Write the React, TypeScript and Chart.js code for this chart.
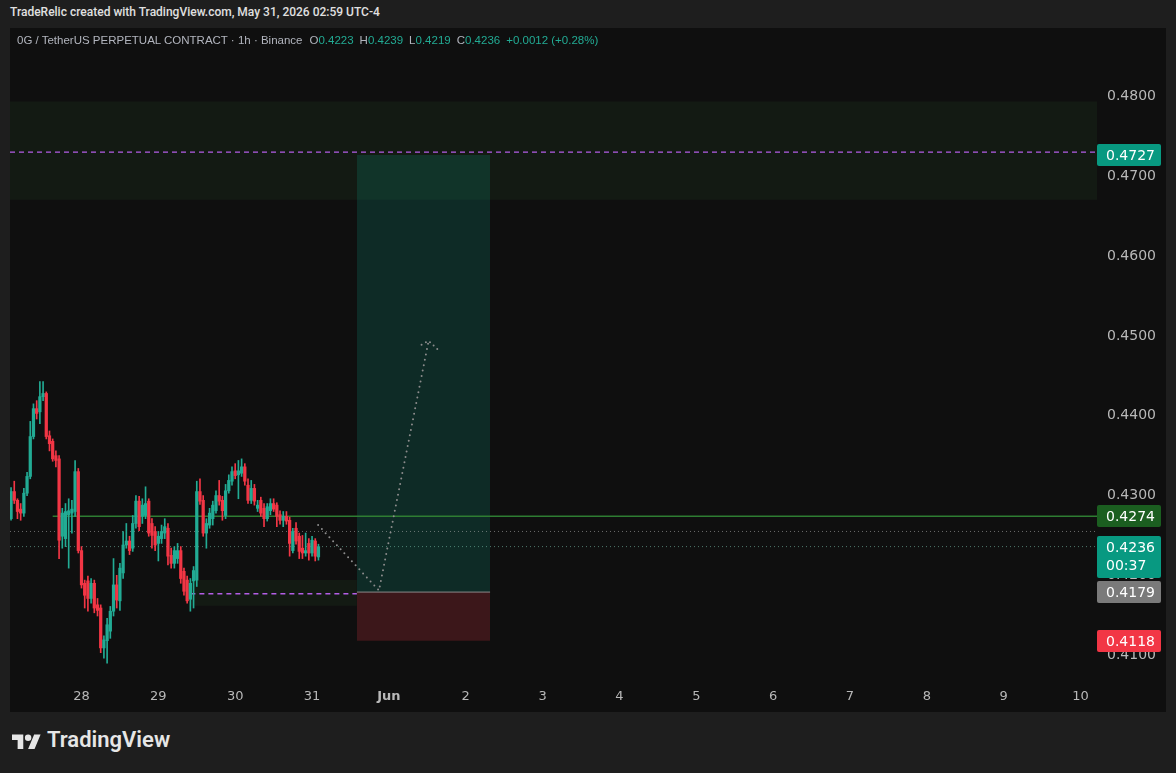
import React, { useEffect, useRef } from "react";
import { Chart, registerables } from "chart.js";

Chart.register(...registerables);

// ---- data: 1h candles, hour index counted from May 27 00:00 (UTC-4) ----
const FIRST_HOUR = 2;
const openP = [
  0.4271, 0.4305, 0.4294, 0.4283, 0.4278, 0.4303, 0.4324, 0.4374, 0.4409, 0.4405,
  0.4424, 0.4428, 0.4375, 0.4368, 0.4350, 0.4346, 0.4249, 0.4246, 0.4276, 0.4278,
  0.4280, 0.4330, 0.4231, 0.4190, 0.4193, 0.4171, 0.4190, 0.4163, 0.4159, 0.4109,
  0.4118, 0.4130, 0.4155, 0.4188, 0.4168, 0.4203, 0.4238, 0.4243, 0.4234, 0.4265,
  0.4293, 0.4274, 0.4275, 0.4293, 0.4265, 0.4255, 0.4240, 0.4246, 0.4253, 0.4259,
  0.4225, 0.4215, 0.4221, 0.4231, 0.4205, 0.4194, 0.4170, 0.4193, 0.4194, 0.4305,
  0.4294, 0.4253, 0.4263, 0.4271, 0.4281, 0.4300, 0.4294, 0.4275, 0.4306, 0.4318,
  0.4331, 0.4326, 0.4328, 0.4336, 0.4313, 0.4294, 0.4309, 0.4284, 0.4294, 0.4284,
  0.4271, 0.4281, 0.4290, 0.4288, 0.4276, 0.4269, 0.4274, 0.4269, 0.4231, 0.4259,
  0.4249, 0.4234, 0.4228, 0.4240, 0.4228, 0.4243, 0.4223,
];
const highP = [
  0.4310, 0.4318, 0.4296, 0.4290, 0.4309, 0.4329, 0.4393, 0.4415, 0.4419, 0.4443,
  0.4443, 0.4430, 0.4381, 0.4371, 0.4356, 0.4350, 0.4284, 0.4290, 0.4296, 0.4294,
  0.4344, 0.4334, 0.4236, 0.4194, 0.4199, 0.4196, 0.4194, 0.4171, 0.4163, 0.4124,
  0.4146, 0.4161, 0.4221, 0.4200, 0.4215, 0.4255, 0.4265, 0.4249, 0.4275, 0.4300,
  0.4299, 0.4296, 0.4311, 0.4296, 0.4271, 0.4261, 0.4255, 0.4263, 0.4271, 0.4265,
  0.4234, 0.4236, 0.4240, 0.4236, 0.4209, 0.4199, 0.4196, 0.4211, 0.4318, 0.4321,
  0.4300, 0.4271, 0.4284, 0.4293, 0.4306, 0.4319, 0.4299, 0.4314, 0.4326, 0.4336,
  0.4340, 0.4344, 0.4346, 0.4340, 0.4321, 0.4319, 0.4314, 0.4294, 0.4298, 0.4290,
  0.4290, 0.4296, 0.4296, 0.4291, 0.4281, 0.4280, 0.4280, 0.4273, 0.4259, 0.4266,
  0.4253, 0.4250, 0.4253, 0.4246, 0.4249, 0.4246, 0.4239,
];
const lowP = [
  0.4269, 0.4290, 0.4271, 0.4269, 0.4274, 0.4300, 0.4321, 0.4371, 0.4396, 0.4390,
  0.4419, 0.4371, 0.4356, 0.4343, 0.4336, 0.4221, 0.4234, 0.4236, 0.4209, 0.4253,
  0.4274, 0.4228, 0.4184, 0.4159, 0.4155, 0.4165, 0.4153, 0.4149, 0.4103, 0.4096,
  0.4090, 0.4121, 0.4149, 0.4159, 0.4156, 0.4196, 0.4234, 0.4226, 0.4230, 0.4259,
  0.4256, 0.4265, 0.4271, 0.4249, 0.4234, 0.4231, 0.4218, 0.4240, 0.4246, 0.4213,
  0.4209, 0.4209, 0.4215, 0.4190, 0.4175, 0.4165, 0.4155, 0.4159, 0.4186, 0.4289,
  0.4249, 0.4234, 0.4259, 0.4263, 0.4278, 0.4288, 0.4269, 0.4271, 0.4303, 0.4313,
  0.4321, 0.4296, 0.4324, 0.4313, 0.4290, 0.4290, 0.4288, 0.4280, 0.4274, 0.4261,
  0.4268, 0.4276, 0.4280, 0.4261, 0.4264, 0.4261, 0.4264, 0.4224, 0.4228, 0.4239,
  0.4221, 0.4221, 0.4224, 0.4219, 0.4224, 0.4218, 0.4219,
];
const closeP = [
  0.4305, 0.4294, 0.4280, 0.4278, 0.4303, 0.4324, 0.4374, 0.4409, 0.4403, 0.4424,
  0.4428, 0.4374, 0.4365, 0.4346, 0.4344, 0.4244, 0.4278, 0.4280, 0.4281, 0.4283,
  0.4330, 0.4231, 0.4188, 0.4175, 0.4171, 0.4190, 0.4159, 0.4156, 0.4109, 0.4119,
  0.4138, 0.4155, 0.4188, 0.4169, 0.4209, 0.4238, 0.4243, 0.4231, 0.4265, 0.4293,
  0.4261, 0.4288, 0.4290, 0.4253, 0.4250, 0.4238, 0.4249, 0.4255, 0.4261, 0.4224,
  0.4215, 0.4231, 0.4231, 0.4196, 0.4180, 0.4168, 0.4190, 0.4206, 0.4305, 0.4293,
  0.4253, 0.4265, 0.4278, 0.4288, 0.4300, 0.4293, 0.4281, 0.4306, 0.4319, 0.4330,
  0.4325, 0.4331, 0.4336, 0.4318, 0.4294, 0.4309, 0.4293, 0.4288, 0.4278, 0.4271,
  0.4286, 0.4290, 0.4283, 0.4274, 0.4269, 0.4274, 0.4268, 0.4240, 0.4255, 0.4243,
  0.4230, 0.4228, 0.4231, 0.4228, 0.4244, 0.4224, 0.4236,
];

// ---- axes ----
const xTickHours = [24, 48, 72, 96, 120, 144, 168, 192, 216, 240, 264, 288, 312, 336];
const xTickLabels = ["28", "29", "30", "31", "Jun", "2", "3", "4", "5", "6", "7", "8", "9", "10"];
const yTickValues = [0.41, 0.42, 0.43, 0.44, 0.45, 0.46, 0.47, 0.48];
const X_MIN = 1.67;
const X_MAX = 341.14;
const Y_MIN = 0.406875;
const Y_MAX = 0.488625;

// ---- drawings ----
const supplyZone = [0.4794, 0.4671];
const demandZoneX = [58, 110];
const demandZone = [0.4194, 0.4162];
const purpleTop = 0.47306;
const purpleLow = 0.41769;
const positionX = [110, 151.6];
const targetPrice = 0.4727;
const entryPrice = 0.4179;
const stopPrice = 0.4118;
const trendLevel = 0.4274;
const trendStartX = 15;
const dottedLevels = [0.4255, 0.4236];
const projX = [97.9, 116.9, 132.4];
const projY = [0.4263, 0.4181, 0.4494];
const arrowX = [130.2, 132.4, 135.3];
const arrowY = [0.4489, 0.4494, 0.4483];

const UP = "#22ab94";
const DOWN = "#f23645";
const PURPLE = "#b45ee6";
const FONT = '"DejaVu Sans", "Liberation Sans", sans-serif';

type AxisLabel = { value: number; text: string; sub?: string; bg: string };
const axisLabels: AxisLabel[] = [
  { value: targetPrice, text: "0.4727", bg: "#089981" },
  { value: trendLevel, text: "0.4274", bg: "#1b5e20" },
  { value: 0.4236, text: "0.4236", sub: "00:37", bg: "#089981" },
  { value: entryPrice, text: "0.4179", bg: "#7a7a7a" },
  { value: stopPrice, text: "0.4118", bg: "#f23645" },
];

const rect = (x0: number, x1: number, top: number, bottom: number, color: string, order: number) => ({
  type: "line" as const,
  data: [
    { x: x0, y: top },
    { x: x1, y: top },
  ],
  borderWidth: 0,
  borderColor: "rgba(0,0,0,0)",
  backgroundColor: color,
  fill: { value: bottom },
  pointRadius: 0,
  order,
});

const hline = (x0: number, x1: number, y: number, color: string, width: number, dash: number[], order: number) => ({
  type: "line" as const,
  data: [
    { x: x0, y },
    { x: x1, y },
  ],
  borderColor: color,
  borderWidth: width,
  borderDash: dash,
  pointRadius: 0,
  fill: false,
  order,
});

const axisLabelPlugin = {
  id: "axisLabels",
  afterDraw(chart: any) {
    const { ctx, chartArea } = chart;
    const y = chart.scales.y;
    ctx.save();
    for (const lab of axisLabels) {
      const py = Math.round(y.getPixelForValue(lab.value));
      const left = chartArea.right;
      const w = 64;
      const h = lab.sub ? 42 : 22;
      const top = py - 11;
      ctx.fillStyle = lab.bg;
      ctx.beginPath();
      ctx.roundRect(left, top, w, h, 2);
      ctx.fill();
      ctx.fillStyle = "#ffffff";
      ctx.font = "14px " + FONT;
      ctx.textBaseline = "middle";
      ctx.textAlign = "left";
      ctx.fillText(lab.text, left + 9, py + 1);
      if (lab.sub) ctx.fillText(lab.sub, left + 9, py + 19);
    }
    ctx.restore();
  },
};

function App() {
  const ref = useRef<HTMLCanvasElement | null>(null);

  useEffect(() => {
    if (!ref.current) return;
    const idx = openP.map((_, i) => FIRST_HOUR + i);
    const colors = openP.map((o, i) => (closeP[i] >= o ? UP : DOWN));
    const chart = new Chart(ref.current, {
      type: "bar",
      data: {
        datasets: [
          {
            type: "bar",
            data: idx.map((x, i) => ({ x, y: [openP[i], closeP[i]] })),
            backgroundColor: colors,
            borderWidth: 0,
            barThickness: 2.6,
            grouped: false,
            order: 1,
          } as any,
          {
            type: "bar",
            data: idx.map((x, i) => ({ x, y: [lowP[i], highP[i]] })),
            backgroundColor: colors,
            borderWidth: 0,
            barThickness: 1,
            grouped: false,
            order: 2,
          } as any,
          rect(X_MIN, X_MAX, supplyZone[0], supplyZone[1], "rgba(76,175,80,0.075)", 20),
          rect(demandZoneX[0], demandZoneX[1], demandZone[0], demandZone[1], "rgba(76,175,80,0.075)", 19),
          rect(positionX[0], positionX[1], targetPrice, entryPrice, "rgba(8,153,129,0.2)", 18),
          rect(positionX[0], positionX[1], entryPrice, stopPrice, "rgba(242,54,69,0.2)", 17),
          hline(positionX[0], positionX[1], entryPrice, "#8a8a8a", 1, [], 16),
          hline(X_MIN, X_MAX, purpleTop, PURPLE, 1.3, [5, 4], 15),
          hline(demandZoneX[0], demandZoneX[1], purpleLow, PURPLE, 1.3, [5, 4], 15),
          hline(trendStartX, X_MAX, trendLevel, "#2e7d32", 1.6, [], 14),
          hline(X_MIN, X_MAX, dottedLevels[0], "rgba(170,170,170,0.6)", 1, [1, 3], 13),
          hline(X_MIN, X_MAX, dottedLevels[1], "rgba(120,190,170,0.6)", 1, [1, 3], 13),
          {
            type: "line",
            data: projX.map((x, i) => ({ x, y: projY[i] })),
            borderColor: "#8c8c8c",
            borderWidth: 2,
            borderDash: [0, 5.5],
            borderCapStyle: "round",
            pointRadius: 0,
            fill: false,
            order: 3,
          } as any,
          {
            type: "line",
            data: arrowX.map((x, i) => ({ x, y: arrowY[i] })),
            borderColor: "#8c8c8c",
            borderWidth: 2,
            borderDash: [0, 5],
            borderCapStyle: "round",
            pointRadius: 0,
            fill: false,
            order: 3,
          } as any,
        ],
      },
      options: {
        responsive: false,
        animation: false,
        events: [],
        layout: { padding: 0 },
        plugins: { legend: { display: false }, tooltip: { enabled: false } },
        scales: {
          x: {
            type: "linear",
            min: X_MIN,
            max: X_MAX,
            offset: false,
            grid: { display: false, drawTicks: false },
            border: { display: false },
            afterBuildTicks: (s: any) => {
              s.ticks = xTickHours.map((v) => ({ value: v }));
            },
            afterFit: (s: any) => {
              s.height = 32;
              s.paddingLeft = 0;
              s.paddingRight = 0;
            },
            ticks: {
              autoSkip: false,
              maxRotation: 0,
              padding: 9,
              color: "#b8b8b8",
              font: (c: any) =>
                c.tick && c.tick.label === "Jun"
                  ? { family: FONT, size: 13, weight: "bold" }
                  : { family: FONT, size: 13 },
              callback: (v: any) => {
                const i = xTickHours.indexOf(Number(v));
                return i >= 0 ? xTickLabels[i] : "";
              },
            },
          },
          y: {
            type: "linear",
            position: "right",
            min: Y_MIN,
            max: Y_MAX,
            grid: { display: false, drawTicks: false },
            border: { display: false },
            afterBuildTicks: (s: any) => {
              s.ticks = yTickValues.map((v) => ({ value: v }));
            },
            afterFit: (s: any) => {
              s.width = 69;
              s.paddingTop = 0;
              s.paddingBottom = 0;
            },
            ticks: {
              padding: 10,
              color: "#b8b8b8",
              font: { family: FONT, size: 14 },
              callback: (v: any) => Number(v).toFixed(4),
            },
          },
        },
      } as any,
      plugins: [axisLabelPlugin],
    });
    return () => chart.destroy();
  }, []);

  const teal = "#22ab94";
  const grey = "#b2b5be";
  return (
    <div
      style={{
        position: "fixed",
        left: 0,
        top: 0,
        width: 1176,
        height: 773,
        background: "#1e1e1e",
        overflow: "hidden",
        fontFamily: '"Liberation Sans", Arial, sans-serif',
      }}
    >
      <div style={{ position: "absolute", left: 10, top: 5, fontSize: 12, fontWeight: 500, color: "#e0e0e0", whiteSpace: "nowrap", fontFamily: "Roboto, sans-serif" }}>
        TradeRelic created with TradingView.com, May 31, 2026 02:59 UTC-4
      </div>
      <div style={{ position: "absolute", left: 10, top: 28, width: 1156, height: 684, background: "#0f0f0f" }}>
        <canvas ref={ref} width={1156} height={684} style={{ position: "absolute", left: 0, top: 0 }} />
        <div style={{ position: "absolute", left: 7, top: 6, fontSize: 11.5, color: grey, whiteSpace: "nowrap" }}>
          <span>0G / TetherUS PERPETUAL CONTRACT · 1h · Binance</span>
          <span style={{ marginLeft: 7 }}>O</span>
          <span style={{ color: teal }}>0.4223</span>
          <span style={{ marginLeft: 6 }}>H</span>
          <span style={{ color: teal }}>0.4239</span>
          <span style={{ marginLeft: 6 }}>L</span>
          <span style={{ color: teal }}>0.4219</span>
          <span style={{ marginLeft: 6 }}>C</span>
          <span style={{ color: teal }}>0.4236</span>
          <span style={{ color: teal, marginLeft: 6 }}>+0.0012 (+0.28%)</span>
        </div>
      </div>
      <svg style={{ position: "absolute", left: 12, top: 731 }} width={29} height={23} viewBox="0 0 36 28">
        <path d="M14 22H7V11H0V4h14v18zM28 22h-8l7.5-18h8L28 22z" fill="#e6e6e6" />
        <circle cx={20} cy={8} r={4} fill="#e6e6e6" />
      </svg>
      <div style={{ position: "absolute", left: 47, top: 727, fontSize: 22, fontWeight: 600, color: "#e6e6e6", fontFamily: "Roboto, sans-serif" }}>
        TradingView
      </div>
    </div>
  );
}

export default App;
